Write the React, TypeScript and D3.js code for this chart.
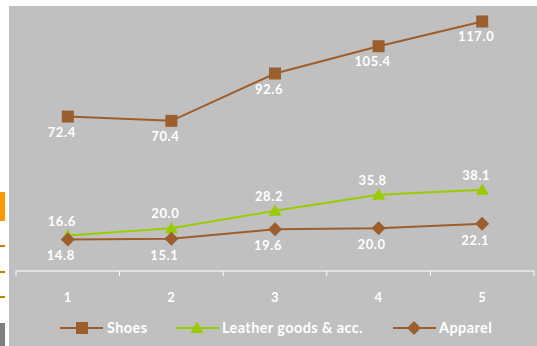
import React from "react";
import * as d3 from "d3";

const categories = ["1", "2", "3", "4", "5"];
const shoes = [72.4, 70.4, 92.6, 105.4, 117.0];
const leather = [16.6, 20.0, 28.2, 35.8, 38.1];
const apparel = [14.8, 15.1, 19.6, 20.0, 22.1];
const seriesNames = ["Shoes", "Leather goods & acc.", "Apparel"];

const W = 537;
const H = 346;
const BROWN = "#9C5E2C";
const GREEN = "#99CC00";
const FONT = "Lato, 'Open Sans', sans-serif";

export default function App() {
  const x = d3.scaleBand().domain(categories).range([16, 534]);
  const cx = (c: string) => (x(c) as number) + x.bandwidth() / 2;
  const y = d3.scaleLinear().domain([0, 125]).range([271, 4.4]);
  const line = d3
    .line<number>()
    .x((_, i) => cx(categories[i]))
    .y((d) => y(d));

  const tickXs = [...categories.map((c) => x(c) as number), 534];

  const square = (px: number, py: number, k: string) => (
    <rect key={k} x={px - 6} y={py - 6} width={12} height={12} fill={BROWN} />
  );
  const tri = (px: number, py: number, k: string) => (
    <path key={k} d={`M${px},${py - 6.5}L${px + 6.5},${py + 5}L${px - 6.5},${py + 5}Z`} fill={GREEN} />
  );
  const diamond = (px: number, py: number, k: string) => (
    <path key={k} d={`M${px},${py - 7}L${px + 7},${py}L${px},${py + 7}L${px - 7},${py}Z`} fill={BROWN} />
  );

  const labelStyle = {
    fontFamily: FONT,
    fontWeight: 700,
    fontSize: 13,
    letterSpacing: 0.6,
    fill: "#FFFFFF",
  } as const;
  const legendStyle = {
    fontFamily: FONT,
    fontWeight: 700,
    fontSize: 14.5,
    letterSpacing: 0.4,
    fill: "#FFFFFF",
  } as const;

  return (
    <svg width={W} height={H} style={{ position: "absolute", left: 0, top: 0 }}>
      <rect x={0} y={0} width={W} height={H} fill="#FFFFFF" />
      <rect x={9} y={6} width={W - 9} height={H - 6} fill="#C0C0C0" />
      {/* left-edge artifacts */}
      <rect x={0} y={192} width={5} height={29} fill="#FF9900" />
      <rect x={0} y={245} width={5} height={2} fill="#CC7A00" />
      <rect x={0} y={271} width={5} height={2} fill="#CC7A00" />
      <rect x={0} y={296} width={5} height={2} fill="#CC7A00" />
      <rect x={0} y={323} width={5} height={23} fill="#808080" />

      {/* axis */}
      <line x1={16} x2={534} y1={271} y2={271} stroke="#FFFFFF" strokeWidth={1} />
      {tickXs.map((t, i) => (
        <line key={"t" + i} x1={t} x2={t} y1={271} y2={276} stroke="#FFFFFF" strokeWidth={1} />
      ))}
      {categories.map((c) => (
        <text key={"l" + c} x={cx(c)} y={302} textAnchor="middle" style={labelStyle}>
          {c}
        </text>
      ))}

      {/* lines */}
      <path d={line(apparel) || ""} fill="none" stroke={BROWN} strokeWidth={2} />
      <path d={line(leather) || ""} fill="none" stroke={GREEN} strokeWidth={2} />
      <path d={line(shoes) || ""} fill="none" stroke={BROWN} strokeWidth={2} />

      {shoes.map((v, i) => square(cx(categories[i]), y(v), "s" + i))}
      {leather.map((v, i) => tri(cx(categories[i]), y(v), "g" + i))}
      {apparel.map((v, i) => diamond(cx(categories[i]), y(v), "a" + i))}

      {shoes.map((v, i) => (
        <text key={"sl" + i} x={cx(categories[i]) - 6} y={y(v) + 20} textAnchor="middle" style={labelStyle}>
          {v.toFixed(1)}
        </text>
      ))}
      {leather.map((v, i) => (
        <text key={"gl" + i} x={cx(categories[i]) - 6} y={y(v) - 10} textAnchor="middle" style={labelStyle}>
          {v.toFixed(1)}
        </text>
      ))}
      {apparel.map((v, i) => (
        <text key={"al" + i} x={cx(categories[i]) - 7} y={y(v) + 21} textAnchor="middle" style={labelStyle}>
          {v.toFixed(1)}
        </text>
      ))}

      {/* legend */}
      <line x1={60} x2={103} y1={328} y2={328} stroke={BROWN} strokeWidth={2} />
      {square(82, 328, "lg1")}
      <text x={107} y={333} style={legendStyle}>{seriesNames[0]}</text>
      <line x1={176} x2={219} y1={328} y2={328} stroke={GREEN} strokeWidth={2} />
      {tri(197, 328, "lg2")}
      <text x={222} y={333} style={legendStyle}>{seriesNames[1]}</text>
      <line x1={393} x2={436} y1={328} y2={328} stroke={BROWN} strokeWidth={2} />
      {diamond(414, 328, "lg3")}
      <text x={439} y={333} style={legendStyle}>{seriesNames[2]}</text>
    </svg>
  );
}
